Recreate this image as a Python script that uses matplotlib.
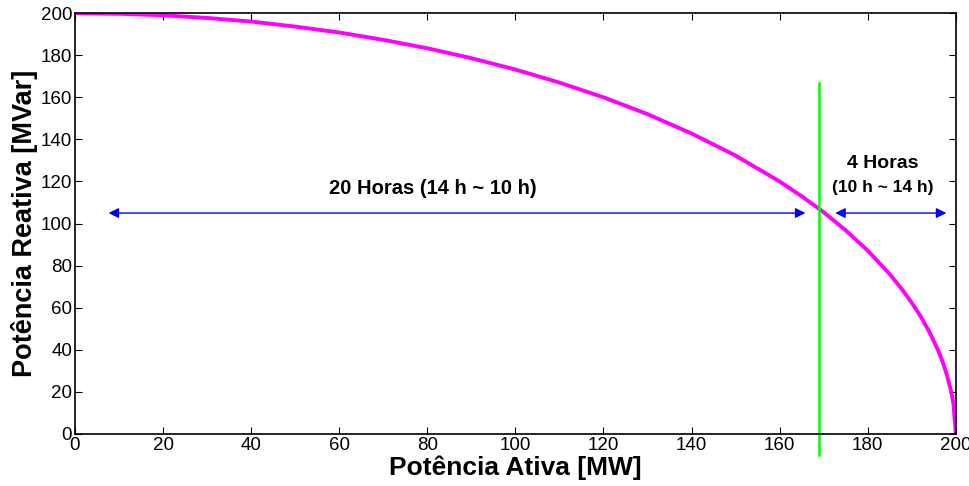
import matplotlib.pyplot as plt

plt.rcParams['font.family'] = ['Liberation Sans', 'DejaVu Sans']

# curva de capabilidade
potAtiva = [0, 10, 20, 30, 40, 50, 60, 70, 80, 90, 100, 110, 120, 130, 140,
            150, 160, 165, 170, 175, 180, 185, 188, 190, 192, 194, 196, 197,
            198, 199, 199.5, 200]
potReativa = [200, 199.7, 199, 197.7, 196, 193.6, 190.8, 187.3, 183.3, 178.6, 173.2,
              167, 160, 152, 142.8, 132.3, 120, 113, 105.4, 96.8, 87.2, 76, 68.2,
              62.4, 56, 48.6, 39.8, 34.5, 28, 20, 14, 0]

linhaVertical = 169
arrowY = 105

fig = plt.figure(figsize=(9.7, 4.86), dpi=100)
ax = fig.add_axes([0.0773, 0.107, 0.908, 0.866])

ax.plot(potAtiva, potReativa, color='#ff00ff', linewidth=2.8)
ax.plot([linhaVertical, linhaVertical], [-10, 167], color='#00ff00', linewidth=1.8, clip_on=False)

ax.annotate('', xy=(7, arrowY), xytext=(166.5, arrowY),
            arrowprops=dict(arrowstyle='<|-|>', color='#0000ff', lw=1, mutation_scale=15))
ax.annotate('', xy=(172, arrowY), xytext=(198.5, arrowY),
            arrowprops=dict(arrowstyle='<|-|>', color='#0000ff', lw=1, mutation_scale=15))

ax.text(81.3, 116.5, '20 Horas (14 h ~ 10 h)', ha='center', va='center', fontsize=14.5, fontweight='bold')
ax.text(183.4, 128.5, '4 Horas', ha='center', va='center', fontsize=14, fontweight='bold')
ax.text(183.4, 117, '(10 h ~ 14 h)', ha='center', va='center', fontsize=12.5, fontweight='bold')

ax.set_xlim(0, 200)
ax.set_ylim(0, 200)
ax.set_xticks(range(0, 201, 20))
ax.set_yticks(range(0, 201, 20))
ax.tick_params(direction='in', top=True, right=True, labelsize=13.5, length=5, pad=2)
for s in ax.spines.values():
    s.set_linewidth(1.2)

ax.set_xlabel('Potência Ativa [MW]', fontsize=19, fontweight='bold', labelpad=1)
ax.set_ylabel('Potência Reativa [MVar]', fontsize=19.5, fontweight='bold', labelpad=2)

plt.savefig('out.png')
plt.close()
